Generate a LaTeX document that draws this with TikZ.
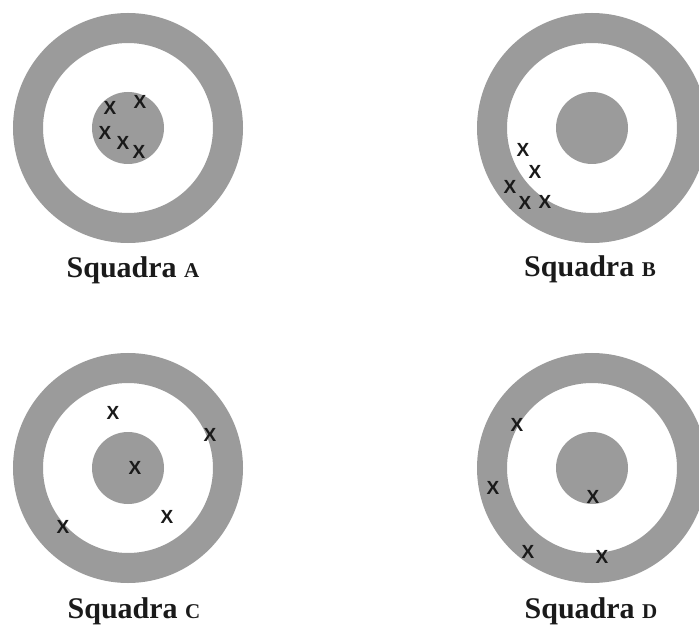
\documentclass[tikz,border=0pt]{standalone}
\usepackage{fontspec}
\newfontfamily\hitfont{Liberation Sans}
\newfontfamily\labfont{Liberation Serif}
\usepackage{xcolor}
\usepackage{tikz}
\usetikzlibrary{positioning}
\definecolor{tgtGrey}{HTML}{9B9B9B}
\definecolor{tgtInk}{HTML}{1A1A1A}
\newcommand{\teamsc}[1]{{\fontsize{21}{21}\selectfont #1}}
\tikzset{
  tgt/ring/.style  = {circle, draw=tgtGrey, line width=30pt, minimum size=200pt,
                      inner sep=0pt, fill=white},
  tgt/bull/.style  = {circle, fill=tgtGrey, minimum size=72pt, inner sep=0pt},
  tgt/hit/.style   = {font=\hitfont\bfseries\fontsize{19}{19}\selectfont, text=tgtInk, inner sep=0pt},
  tgt/label/.style = {font=\labfont\bfseries\fontsize{30}{34}\selectfont, text=tgtInk,
                      anchor=base, inner sep=0pt},
}

\begin{document}
\begin{tikzpicture}[x=1pt, y=-1pt]
  \useasboundingbox (0,0) rectangle (699,628);
  \clip (0,0) rectangle (699,628);
  % targets
  \foreach \t/\cx/\cy/\lx/\ly in {A/128/128/133/278, B/592/128/590/277,
                                  C/128/468/134/618, D/592/468/591/618} {
    \node[tgt/ring] (ring\t) at (\cx,\cy) {};
    \node[tgt/bull] (bull\t) at (\cx,\cy) {};
    \node[tgt/label] (lab\t) at (\lx,\ly) {Squadra \teamsc{\t}};
  }
  % hits, team A
  \node[tgt/hit] (a1) at (110,108) {X};
  \node[tgt/hit] (a2) at (140,102) {X};
  \node[tgt/hit] (a3) at (105,133) {X};
  \node[tgt/hit] (a4) at (123,143) {X};
  \node[tgt/hit] (a5) at (139,152) {X};
  % hits, team B
  \node[tgt/hit] (b1) at (523,150) {X};
  \node[tgt/hit] (b2) at (535,172) {X};
  \node[tgt/hit] (b3) at (510,187) {X};
  \node[tgt/hit] (b4) at (525,203) {X};
  \node[tgt/hit] (b5) at (545,202) {X};
  % hits, team C
  \node[tgt/hit] (c1) at (113,413) {X};
  \node[tgt/hit] (c2) at (210,435) {X};
  \node[tgt/hit] (c3) at (135,468) {X};
  \node[tgt/hit] (c4) at (167,517) {X};
  \node[tgt/hit] (c5) at (63,527) {X};
  % hits, team D
  \node[tgt/hit] (d1) at (517,425) {X};
  \node[tgt/hit] (d2) at (493,488) {X};
  \node[tgt/hit] (d3) at (593,497) {X};
  \node[tgt/hit] (d4) at (528,552) {X};
  \node[tgt/hit] (d5) at (602,557) {X};
\end{tikzpicture}
\end{document}
